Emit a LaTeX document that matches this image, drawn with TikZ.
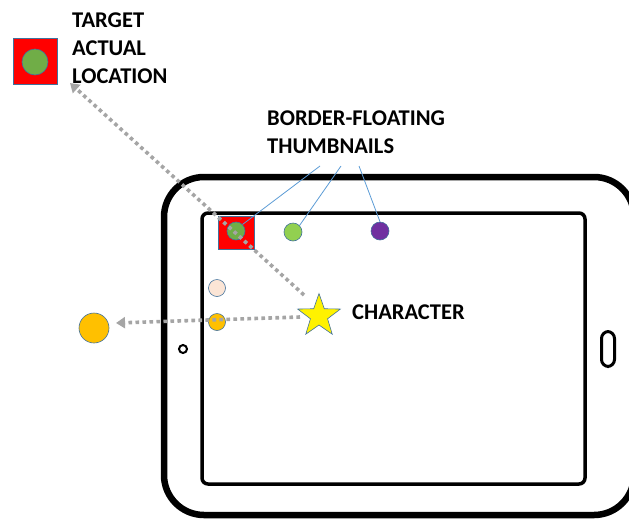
\documentclass[tikz,border=0pt]{standalone}
\usepackage{fontspec}
\setmainfont{Carlito}
\usetikzlibrary{arrows.meta,shapes.geometric}
\definecolor{tred}{HTML}{FF0000}
\definecolor{tgreen}{HTML}{70AD47}
\definecolor{lgreen}{HTML}{92D050}
\definecolor{tpurple}{HTML}{7030A0}
\definecolor{tpeach}{HTML}{FBE5D6}
\definecolor{torange}{HTML}{FFC000}
\definecolor{tedge}{HTML}{41719C}
\definecolor{tblue}{HTML}{5B9BD5}
\definecolor{tgray}{HTML}{A5A5A5}
\tikzset{
  lbl/.style={font=\fontsize{22.5}{28}\selectfont\bfseries, text=black, align=left, inner sep=0pt},
  dot/.style={circle, draw=tedge, line width=0.6pt, inner sep=0pt},
  sq/.style={rectangle, fill=tred, draw=tedge, line width=0.6pt, inner sep=0pt},
  dotted arrow/.style={draw=tgray, line width=3.6pt, dash pattern=on 3.6pt off 3.4pt, -{Triangle[length=9pt,width=11pt]}},
  callout/.style={draw=tblue, line width=0.8pt},
}
\begin{document}
\begin{tikzpicture}[x=1pt,y=-1pt]
\useasboundingbox (0,0) rectangle (629,520);
% tablet
\draw[line width=6.5pt, rounded corners=40pt] (164,177) rectangle (634,515);
\draw[line width=3.5pt, rounded corners=6pt] (202,213) rectangle (585,484);
\node[draw, line width=3pt, rounded corners=7pt, minimum width=13pt, minimum height=35pt, inner sep=0pt] (home) at (608,349) {};
\node[circle, draw, line width=2pt, minimum size=8pt, inner sep=0pt] (cam) at (183,349) {};

% target actual location
\node[sq, minimum width=44pt, minimum height=46pt] (tsq) at (35,61) {};
\node[dot, fill=tgreen, minimum size=26pt] (tdot) at (35,62) {};
\node[lbl, anchor=north west] (tlabel) at (72,13) {TARGET\\ACTUAL\\LOCATION};

% thumbnails
\node[sq, minimum width=36pt, minimum height=33pt] (ssq) at (236,232.5) {};
\node[dot, fill=tgreen, minimum size=18pt] (th1) at (236,231) {};
\node[dot, fill=lgreen, minimum size=18pt] (th2) at (293,232) {};
\node[dot, fill=tpurple, minimum size=18pt] (th3) at (380,231) {};
\node[dot, fill=tpeach, minimum size=17pt] (th4) at (217,288) {};
\node[dot, fill=torange, minimum size=17pt] (th5) at (217,322) {};
\node[dot, fill=torange, minimum size=30pt] (big) at (94,328) {};

\node[lbl, anchor=north west] (blabel) at (267,111) {BORDER-FLOATING\\THUMBNAILS};

% character
\node[star, star points=5, star point ratio=2.5, fill=yellow, draw=tedge, line width=0.6pt, minimum size=45pt, inner sep=0pt] (star) at (319,316) {};
\node[lbl, anchor=west] (clabel) at (352,312) {CHARACTER};

% callout lines
\coordinate (c1) at (320,166);
\coordinate (c2) at (341,166);
\coordinate (c3) at (359,166);
\draw[callout] (c1) -- (th1.north east);
\draw[callout] (c2) -- (th2.north east);
\draw[callout] (c3) -- (th3.north);

% dotted arrows
\coordinate (s1) at (304,295);
\coordinate (s2) at (300,317);
\coordinate (e1) at (70,83);
\coordinate (e2) at (116,323);
\draw[dotted arrow] (s1) -- (e1);
\draw[dotted arrow] (s2) -- (e2);
\end{tikzpicture}
\end{document}
